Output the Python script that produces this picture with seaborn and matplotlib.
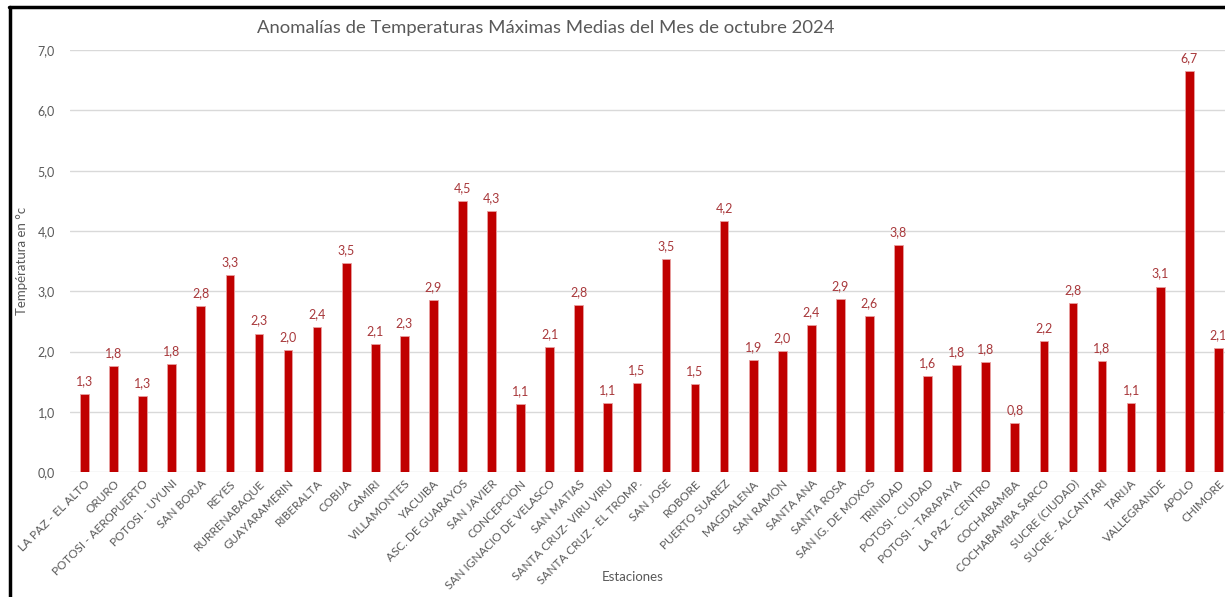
import matplotlib
matplotlib.use("Agg")
import matplotlib.pyplot as plt
from matplotlib.lines import Line2D
import seaborn as sns
import pandas as pd

estaciones = [
    "LA PAZ - EL ALTO", "ORURO", "POTOSI - AEROPUERTO", "POTOSI - UYUNI", "SAN BORJA",
    "REYES", "RURRENABAQUE", "GUAYARAMERIN", "RIBERALTA", "COBIJA", "CAMIRI",
    "VILLAMONTES", "YACUIBA", "ASC. DE GUARAYOS", "SAN JAVIER", "CONCEPCION",
    "SAN IGNACIO DE VELASCO", "SAN MATIAS", "SANTA CRUZ- VIRU VIRU",
    "SANTA CRUZ - EL TROMP.", "SAN JOSE", "ROBORE", "PUERTO SUAREZ", "MAGDALENA",
    "SAN RAMON", "SANTA ANA", "SANTA ROSA", "SAN IG. DE MOXOS", "TRINIDAD",
    "POTOSI - CIUDAD", "POTOSI - TARAPAYA", "LA PAZ - CENTRO", "COCHABAMBA",
    "COCHABAMBA SARCO", "SUCRE (CIUDAD)", "SUCRE - ALCANTARI", "TARIJA",
    "VALLEGRANDE", "APOLO", "CHIMORE",
]

anomalias = [
    1.29, 1.76, 1.27, 1.80, 2.76, 3.27, 2.30, 2.02, 2.41, 3.47, 2.12,
    2.26, 2.85, 4.50, 4.33, 1.13, 2.08, 2.78, 1.14, 1.48, 3.53, 1.46,
    4.17, 1.86, 2.01, 2.44, 2.87, 2.59, 3.77, 1.60, 1.78, 1.82, 0.82,
    2.18, 2.81, 1.84, 1.14, 3.08, 6.66, 2.06,
]

y_ticks = [0, 1, 2, 3, 4, 5, 6, 7]

titulo = "Anomalías de Temperaturas Máximas Medias del Mes de octubre 2024"
eje_y = "Températura en °c"
eje_x = "Estaciones"

df = pd.DataFrame({"estacion": estaciones, "anomalia": anomalias})

sns.set_theme(style="white")
plt.rcParams["font.family"] = ["Lato", "DejaVu Sans"]

GRIS = "#595959"
ROJO = "#C00000"

fig = plt.figure(figsize=(12.25, 5.97), dpi=100)
ax = fig.add_axes([70 / 1225, 0.209, (1225 - 70) / 1225, 0.707])

sns.barplot(data=df, x="estacion", y="anomalia", color=ROJO, saturation=1,
            width=0.3, ax=ax, edgecolor="#E8A0A0", linewidth=0.6)

n = len(estaciones)
ax.set_xlim(-0.5, n - 0.5 - 0.27)
ax.set_ylim(0, 7.0)
ax.set_yticks(y_ticks)
ax.set_yticklabels([f"{t:.1f}".replace(".", ",") for t in y_ticks])
ax.yaxis.grid(True, color="#D9D9D9", linewidth=1.0)
ax.set_axisbelow(True)
for s in ax.spines.values():
    s.set_visible(False)
ax.tick_params(axis="both", length=0, colors=GRIS)
ax.tick_params(axis="y", labelsize=9, pad=11)
ax.tick_params(axis="x", labelsize=8.5, pad=4)
for lbl in ax.get_xticklabels():
    lbl.set_rotation(45)
    lbl.set_ha("right")
    lbl.set_rotation_mode("anchor")

ax.bar_label(ax.containers[0],
             labels=[f"{v:.1f}".replace(".", ",") for v in anomalias],
             padding=5, fontsize=9, color="#A8383B")

ax.set_xlabel(eje_x, fontsize=9.5, color=GRIS)
ax.set_ylabel(eje_y, fontsize=9.5, color=GRIS)
ax.xaxis.set_label_coords(0.487, -0.235)
ax.yaxis.set_label_coords(-0.036, 0.5)

fig.text(546 / 1225, 1 - 28 / 597, titulo, ha="center", va="center",
         fontsize=13.3, color=GRIS)

# dark frame along the top and left edges
fig.add_artist(Line2D([10 / 1225, 10 / 1225], [0, 1 - 7 / 597],
                      transform=fig.transFigure, color="black", linewidth=2.5))
fig.add_artist(Line2D([9 / 1225, 1], [1 - 7 / 597, 1 - 7 / 597],
                      transform=fig.transFigure, color="black", linewidth=2.5))

fig.savefig("out.png", dpi=100)
